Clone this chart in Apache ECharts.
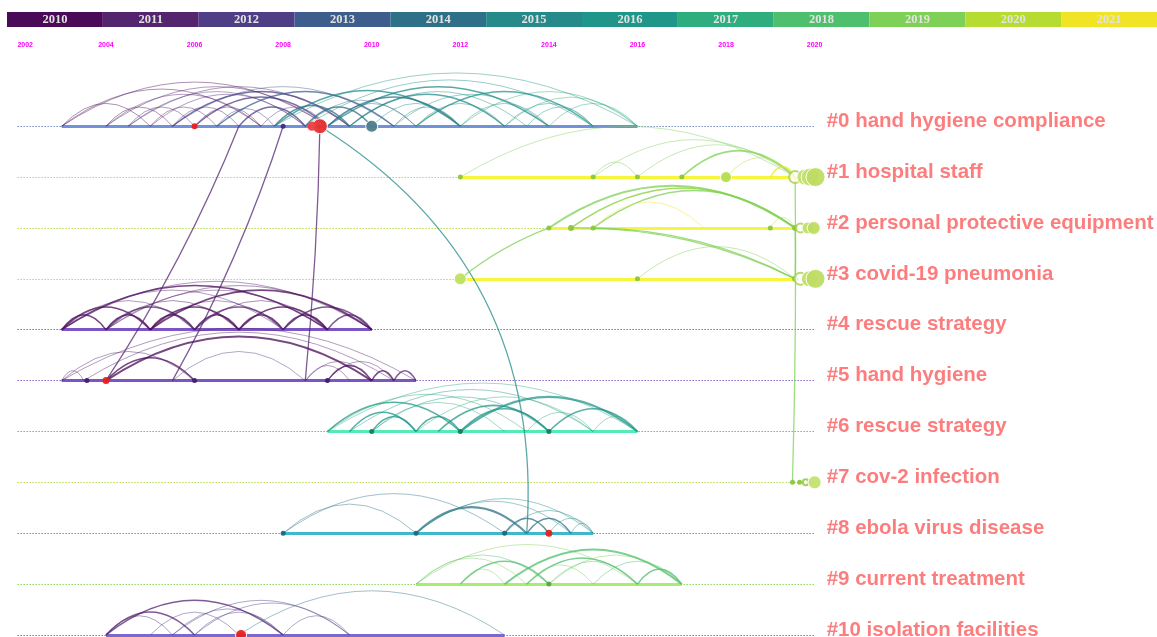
<!DOCTYPE html>
<html>
<head>
<meta charset="utf-8">
<script src="https://cdn.jsdelivr.net/npm/echarts@6/dist/echarts.min.js"></script>
<style>
  html, body { margin: 0; padding: 0; background: #fff; }
  #chart { width: 1157px; height: 637px; }
</style>
</head>
<body>
<div id="chart"></div>
<script>
(function(){
  // colour legend (slice years)
  const barYears = ["2010","2011","2012","2013","2014","2015","2016","2017","2018","2019","2020","2021"];
  const barColors = ["#4a0a57","#54246f","#4d3e86","#3d5d8c","#2e7088","#268a8a","#20968a","#2ead7f","#4ebf6c","#7ed056","#b6dc31","#f1e424"];

  // clusters (rows of the timeline)
  const clusterNames = [
    "#0 hand hygiene compliance", "#1 hospital staff", "#2 personal protective equipment",
    "#3 covid-19 pneumonia", "#4 rescue strategy", "#5 hand hygiene", "#6 rescue strategy",
    "#7 cov-2 infection", "#8 ebola virus disease", "#9 current treatment", "#10 isolation facilities"
  ];
  const timelineStart = 2002, timelineEnd = 2020;
  // active period of each cluster [from, to]
  const spans = [[2003,2016],[2012,2019.56],[2014,2019.56],[2012,2019.56],[2003,2010],[2003,2011],
                 [2009,2016],null,[2008,2015],[2011,2017],[2004,2013]];
  const spanColors = ["#7192da","#f6f63c","#f6f63c","#f6f63c","#7d54c4","#7d54c4","#55ebb4",null,"#3fb7cc","#a8ec70","#7a6ad0"];
  const dotColors = ["#7890c8","#b8dc50","#b8dc50","#b8dc50","#8a66c8","#8a66c8","#40c8a0","#b8dc50","#3fa8b8","#90d860","#8070c8"];

  // co-citation arcs inside each cluster: [fromYear, toYear, linkYear, weight]
  const arcs0 = [
    [2003,2007.5,2010,1],[2003,2005,2010,1],[2004,2009,2011,1],[2004,2005.5,2010,1],[2004.5,2009.5,2011,1],
    [2004.5,2006,2011,1],[2005,2008.5,2011,1],[2005,2006.5,2011,1],[2005.5,2009.5,2012,1.5],[2005.5,2007,2011,1],
    [2006,2009,2012,1.5],[2006,2007.5,2011,1],[2006.5,2007.8,2012,1],[2007,2008.5,2012,1.5],[2007.5,2009,2012,1],
    [2004,2007.5,2011,1],[2004.5,2008.5,2012,1],[2005.5,2010.5,2013,1],[2006.5,2010.5,2013,1.5],[2003,2009,2010,1],
    [2007.8,2016,2016,1],[2008.5,2015,2015,1],[2009,2014,2015,1.5],[2009.5,2013,2015,1.5],[2007.8,2012,2015,1.5],
    [2008.5,2011,2014,1],[2009,2012,2014,1.5],[2009.5,2013.5,2015,1],[2010.5,2014,2016,1],[2011,2015,2016,1.5],
    [2012,2016,2017,1],[2013,2016,2017,1],[2013.5,2015,2016,1],[2014,2016,2017,1],[2010.5,2012,2015,1],
    [2011,2013,2015,1],[2007.8,2009.5,2014,1.5],[2008.5,2010,2014,1.5],[2010,2012,2015,1],[2009,2011,2014,1],
    [2012,2014,2016,1],[2013,2015,2016,1]
  ];
  const arcs1 = [[2012,2019.56,2019,1],[2015,2016,2019,1],[2015,2019.56,2019,1],[2016,2019.56,2019,1],
                 [2017,2019.56,2019,1.8],[2018,2019.56,2020,1],[2019,2019.56,2021,1.5]];
  const arcs2 = [[2014,2019.56,2019,2],[2014.5,2019.56,2019,1.5],[2014.5,2019.56,2020,1],[2015,2019.56,2019,1.5],
                 [2015,2017.5,2021,1],[2019,2019.56,2020,1]];
  const arcs3 = [[2016,2019.56,2019,1]];
  const arcs4 = [
    [2003,2004,2010,1.5],[2004,2005,2010,1.5],[2005,2006,2010,1.5],[2006,2007,2010,1.5],[2007,2008,2010,1.5],
    [2008,2009,2010,1.5],[2009,2010,2011,1.5],[2003,2005,2010,1.5],[2004,2006,2011,1.5],[2005,2007,2010,1.5],
    [2006,2008,2011,1.5],[2007,2009,2010,1.5],[2008,2010,2011,1.5],[2003,2006,2011,1],[2004,2007,2010,1],
    [2005,2008,2011,1],[2006,2009,2010,1],[2003,2009,2010,1.5],[2003,2010,2011,1],[2004,2010,2010,1],
    [2003,2008,2011,1],[2004,2009,2011,1],[2005,2010,2010,1.5]
  ];
  const arcs5 = [
    [2003,2011,2011,1],[2003.5,2010.5,2011,1],[2004,2010,2010,2],[2003,2006,2011,1],[2004,2006,2010,1.5],
    [2005.5,2008.5,2012,1],[2008.5,2009.5,2011,1],[2009,2010,2010,1.5],[2009,2010.5,2011,1],[2010,2010.5,2010,1.5],
    [2010.5,2011,2011,1.5],[2008.5,2010,2011,1],[2003,2003.5,2011,1]
  ];
  const arcs6 = [
    [2009,2016,2017,1],[2009.5,2015,2016,1],[2010,2014,2016,1],[2012,2016,2016,2],[2011,2015,2017,1],
    [2009,2012,2016,1.5],[2009.5,2011,2016,1.5],[2010,2011,2016,1.5],[2011,2012,2016,1.5],[2011.5,2014,2016,1.5],
    [2012,2014,2016,1.5],[2013.5,2015,2017,1],[2015,2016,2017,1],[2014,2016,2016,1.5],[2009,2013.5,2017,1],
    [2010,2013,2017,1]
  ];
  const arcs8 = [[2008,2013,2014,1],[2008,2011,2014,1],[2011,2013.5,2014,2],[2011,2014.5,2015,1],[2011,2015,2015,1],
                 [2013,2014,2014,1.5],[2013.5,2014.5,2014,1.5],[2014,2015,2015,1],[2013,2015,2015,1],[2014.5,2015,2015,1]];
  const arcs9 = [[2011,2016,2019,1],[2011,2014,2018,1],[2012,2014,2018,1.5],[2013,2017,2018,2],[2013.5,2016,2018,1.5],
                 [2014,2016,2018,1],[2012,2013,2019,1],[2015,2017,2018,1],[2016,2017,2018,1.5],[2013.5,2015,2019,1],
                 [2011,2013.5,2019,1],[2014,2017,2019,1]];
  const arcs10 = [[2004,2008,2011,1.5],[2004,2006,2011,1.5],[2005.5,2008,2012,1],[2005.5,2009.5,2012,1],
                  [2006,2009.5,2012,1],[2007,2013,2014,1],[2008,2009.5,2012,1],[2006,2008,2012,1],[2004,2005.5,2011,1],
                  [2005,2007,2012,1]];
  const clusterArcs = [arcs0, arcs1, arcs2, arcs3, arcs4, arcs5, arcs6, [], arcs8, arcs9, arcs10];

  // links between clusters: [fromCluster, fromYear, toCluster, toYear, linkYear, bend]
  const crossLinks = [
    [0,2008.83,5,2008.5,2011,0.02],[0,2007.0,5,2004.0,2011,0.05],[0,2008.0,5,2005.5,2011,0.05],
    [0,2008.83,8,2013.5,2015,0.3],[1,2019.56,7,2019.5,2019,0.01],[2,2014.5,3,2019.56,2019,0.12],
    [2,2015,3,2019.56,2019,0.12],[3,2012,2,2014,2019,0.08],[2,2019.56,3,2019.56,2019,0.01]
  ];

  // cited references: [year, cluster, size, colour, hollow]
  const nodes = [
    [2006,0,6,"#e82020",0],[2008,0,5,"#4a2a80",0],[2010,0,12,"#4f7d8c",0],[2008.83,0,15,"#e83030",0],[2008.65,0,9,"#f04040",0],
    [2012,1,5,"#8cc63c",0],[2015,1,5,"#8cc63c",0],[2016,1,5,"#8cc63c",0],[2017,1,5,"#8cc63c",0],[2018,1,11,"#b5dc50",0],
    [2014,2,5,"#8cc63c",0],[2014.5,2,6,"#8cc63c",0],[2015,2,5,"#8cc63c",0],[2019,2,5,"#8cc63c",0],
    [2012,3,12,"#c0e060",0],[2016,3,5,"#8cc63c",0],
    [2003.57,5,5,"#402070",0],[2004,5,7,"#e82020",0],[2006,5,5,"#402070",0],[2009,5,5,"#402070",0],
    [2010,6,5,"#1f7a5c",0],[2012,6,5,"#1f7a5c",0],[2014,6,5,"#1f7a5c",0],
    [2019.5,7,5,"#8cc63c",0],[2019.66,7,5,"#8cc63c",0],[2019.8,7,6,"#8cc63c",1],[2020.0,7,13,"#c4e070",0],
    [2008,8,5,"#206878",0],[2011,8,5,"#206878",0],[2013,8,5,"#206878",0],[2014,8,7,"#e82020",0],
    [2014,9,5,"#5aa83c",0],
    [2007.05,10,11,"#e82020",0],
    // stacked rings at the recent end of #1-#3
    [2019.56,1,12,"#a8d048",1],[2019.78,1,16,"#c4e070",0],[2019.9,1,18,"#c4e070",0],[2020.02,1,19,"#bedd62",0],
    [2019.56,2,6,"#8cc63c",0],[2019.68,2,9,"#a8d048",1],[2019.85,2,12,"#c4e070",0],[2019.98,2,13,"#bedd62",0],
    [2019.56,3,6,"#8cc63c",0],[2019.68,3,12,"#a8d048",1],[2019.88,3,16,"#c4e070",0],[2020.02,3,19,"#bedd62",0]
  ];

  const PX_PER_YEAR = 44.29;
  const linkColor = y => barColors[y - 2010];
  const bend = (a, b) => 3.1 * Math.pow(Math.abs(b - a) * PX_PER_YEAR, -0.4);

  const arcData = [];
  clusterArcs.forEach((list, c) => list.forEach(([a, b, y, w]) => {
    arcData.push({
      coords: [[Math.min(a, b), c], [Math.max(a, b), c]],
      lineStyle: { color: linkColor(y), width: w, opacity: w > 1.2 ? 0.75 : 0.45, curveness: bend(a, b) }
    });
  }));
  const crossData = crossLinks.map(([c1, a, c2, b, y, k]) => ({
    coords: [[a, c1], [b, c2]],
    lineStyle: { color: linkColor(y), width: 1.3, opacity: 0.75, curveness: k }
  }));
  const dottedData = clusterNames.map((n, c) => ({
    coords: [[timelineStart, c], [timelineEnd, c]], lineStyle: { color: dotColors[c] }
  }));
  const spanData = [];
  spans.forEach((s, c) => { if (s) spanData.push({ coords: [[s[0], c], [s[1], c]], lineStyle: { color: spanColors[c] } }); });
  const nodeData = nodes.map(([x, c, s, col, hollow]) => ({
    value: [x, c], symbolSize: s,
    itemStyle: hollow ? { color: "#ffffff", borderColor: col, borderWidth: 2 }
                      : { color: col, borderColor: "#ffffff", borderWidth: s > 10 ? 1 : 0, opacity: 0.95 }
  }));

  const chart = echarts.init(document.getElementById("chart"));
  chart.setOption({
    animation: false,
    grid: [
      { left: 7, right: -23, top: 12, height: 15 },
      { left: 17.4, right: 253.8, top: 55, bottom: 0 }
    ],
    xAxis: [
      { gridIndex: 0, type: "category", data: barYears, show: false },
      { gridIndex: 1, type: "value", min: 2002, max: 2022, interval: 2, position: "top",
        axisLine: { show: false }, axisTick: { show: false }, splitLine: { show: false },
        axisLabel: { color: "#ff00ff", fontSize: 7, fontWeight: "bold", margin: 6, alignMinLabel: "left",
                     formatter: v => (v <= 2020 ? String(v) : "") } }
    ],
    yAxis: [
      { gridIndex: 0, type: "value", min: 0, max: 1, show: false },
      { gridIndex: 1, type: "value", inverse: true, min: -1.4, max: 10.04, show: false }
    ],
    series: [
      { type: "bar", xAxisIndex: 0, yAxisIndex: 0, barWidth: "100%", barCategoryGap: 0,
        data: barYears.map((y, i) => ({ value: 1, itemStyle: { color: barColors[i] } })),
        label: { show: true, position: "inside", formatter: "{b}", color: "#e2e2e2",
                 fontFamily: "Liberation Serif", fontWeight: "bold", fontSize: 12.5 } },
      { type: "lines", coordinateSystem: "cartesian2d", xAxisIndex: 1, yAxisIndex: 1, z: 1,
        lineStyle: { width: 1.2, type: [1.5, 1.5], opacity: 1 }, data: dottedData },
      { type: "lines", coordinateSystem: "cartesian2d", xAxisIndex: 1, yAxisIndex: 1, z: 2,
        lineStyle: { width: 3, opacity: 1 }, data: spanData },
      { type: "lines", coordinateSystem: "cartesian2d", xAxisIndex: 1, yAxisIndex: 1, z: 3, data: arcData },
      { type: "lines", coordinateSystem: "cartesian2d", xAxisIndex: 1, yAxisIndex: 1, z: 3, data: crossData },
      { type: "scatter", xAxisIndex: 1, yAxisIndex: 1, z: 4, symbol: "circle", data: nodeData },
      { type: "scatter", xAxisIndex: 1, yAxisIndex: 1, z: 5, symbolSize: 1, clip: false,
        itemStyle: { color: "rgba(255,255,255,0)" },
        data: clusterNames.map((n, c) => ({ value: [2020.26, c], name: n })),
        label: { show: true, position: "right", distance: 0, offset: [0, -7], formatter: "{b}",
                 color: "#fa5c5c", fontFamily: "Liberation Sans", fontWeight: "bold", fontSize: 20.5 },
        labelLayout: { hideOverlap: false, dy: -5 } }
    ]
  });
  window.addEventListener("resize", () => chart.resize());
})();
</script>
</body>
</html>
